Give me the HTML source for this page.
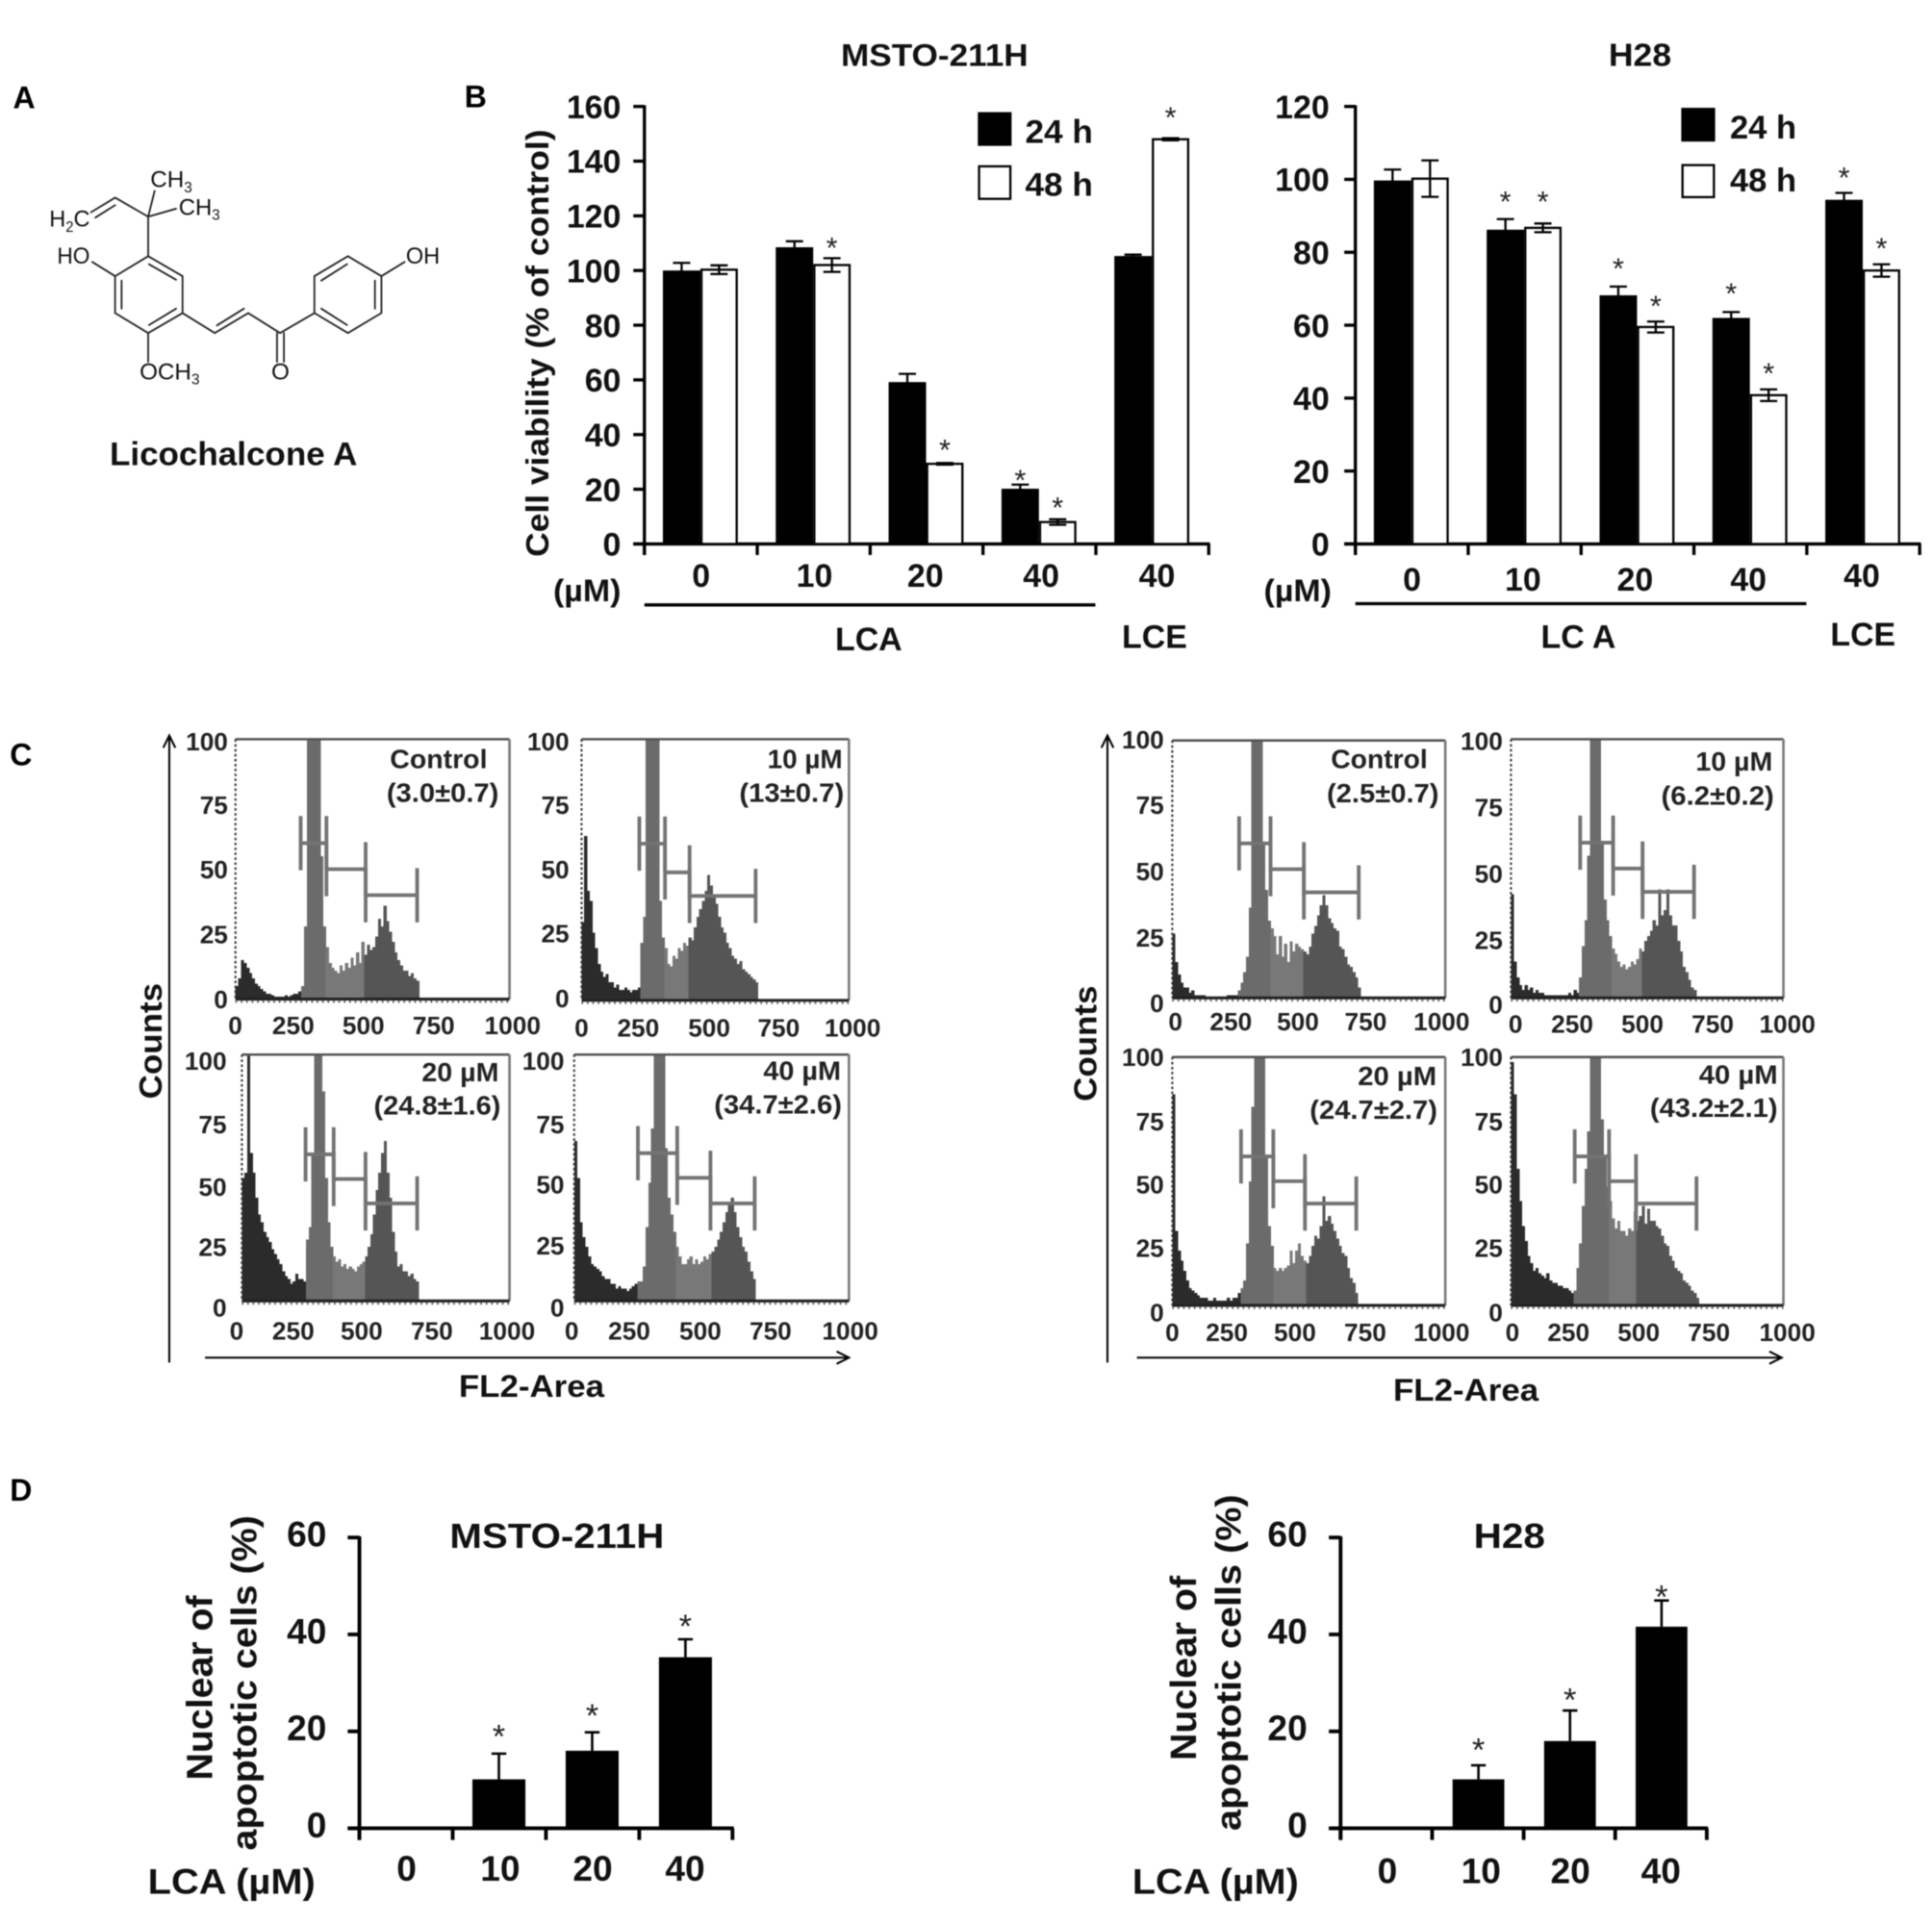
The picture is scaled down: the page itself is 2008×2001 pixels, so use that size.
<!DOCTYPE html>
<html lang="en">
<head>
<meta charset="utf-8">
<title>Licochalcone A figure</title>
<style>
html,body{margin:0;padding:0;background:#fff}
svg{display:block;font-family:"Liberation Sans",Arial,sans-serif;filter:blur(.4px)}
.b{font-weight:700}
.m{text-anchor:middle}
.chem{font-size:19px;fill:#111}
.bond{stroke:#222;stroke-width:4;fill:none;stroke-linecap:round}
</style>
</head>
<body>
<svg id="fig" xmlns="http://www.w3.org/2000/svg" width="2008" height="2001" viewBox="0 0 1568 1562.5">
<rect width="1568" height="1562.5" fill="#fff"/>

<!-- Panel letters -->
<text class="b" x="10.5" y="88" font-size="25">A</text>
<text class="b" x="377" y="87" font-size="25">B</text>
<text class="b" x="8" y="621" font-size="25">C</text>
<text class="b" x="8" y="1218" font-size="25">D</text>

<!-- Structure -->
<g>
<g transform="scale(.3486,.3604)" class="bond">
<polygon points="345,577 425,622 425,705 345,750 268,705 268,622"/>
<path d="M347,595L410,630M410,695L347,732M283,632V695"/>
<path d="M345,577V488M345,488L268,445L212,478M268,462L222,490M345,488L360,430M345,488L410,470"/>
<path d="M268,622L215,590M345,750V815"/>
<path d="M425,705L500,750L578,705L652,750M505,733L568,695M645,750V815M661,750V815M652,750L732,705"/>
<polygon points="732,705 732,622 810,577 888,622 888,705 810,750"/>
<path d="M748,632L808,595M873,632V695M748,695L808,732M888,622L942,590"/>
</g>
<text class="chem" x="40" y="184" textLength="33" lengthAdjust="spacingAndGlyphs">H<tspan font-size="12" dy="4">2</tspan><tspan dy="-4">C</tspan></text>
<text class="chem" x="122" y="152" textLength="34" lengthAdjust="spacingAndGlyphs">CH<tspan font-size="12" dy="4">3</tspan></text>
<text class="chem" x="145" y="174.5" textLength="33.5" lengthAdjust="spacingAndGlyphs">CH<tspan font-size="12" dy="4">3</tspan></text>
<text class="chem" x="46.4" y="214" textLength="26.6" lengthAdjust="spacingAndGlyphs">HO</text>
<text class="chem" x="329.4" y="214" textLength="27.6" lengthAdjust="spacingAndGlyphs">OH</text>
<text class="chem" x="113.3" y="308" textLength="48.7" lengthAdjust="spacingAndGlyphs">OCH<tspan font-size="12" dy="4">3</tspan></text>
<text class="chem m" x="227.6" y="308">O</text>
</g>
<text class="b" x="89" y="377.5" font-size="27" fill="#111" textLength="201" lengthAdjust="spacingAndGlyphs">Licochalcone A</text>

<!-- Panel B static text -->
<text class="b m" x="758.5" y="53.5" font-size="25" fill="#111" textLength="152" lengthAdjust="spacingAndGlyphs">MSTO-211H</text>
<text class="b m" x="1331" y="53.5" font-size="26" fill="#111" textLength="51" lengthAdjust="spacingAndGlyphs">H28</text>
<text class="b" transform="translate(445,452) rotate(-90)" font-size="26" fill="#111" textLength="347" lengthAdjust="spacingAndGlyphs">Cell viability (% of control)</text>
<text class="b" x="449" y="488" font-size="25" fill="#111" textLength="55" lengthAdjust="spacingAndGlyphs">(µM)</text>
<text class="b" x="1025.7" y="488" font-size="25" fill="#111" textLength="55" lengthAdjust="spacingAndGlyphs">(µM)</text>
<line x1="523" x2="889" y1="491" y2="491" stroke="#000" stroke-width="2.6"/>
<line x1="1100" x2="1466" y1="490" y2="490" stroke="#000" stroke-width="2.6"/>
<text class="b m" x="705" y="528" font-size="26.5" fill="#111">LCA</text>
<text class="b m" x="937" y="526" font-size="26.5" fill="#111">LCE</text>
<text class="b m" x="1281" y="526" font-size="26.5" fill="#111">LC A</text>
<text class="b m" x="1512" y="524" font-size="26.5" fill="#111">LCE</text>

<!-- Legends -->
<g>
<rect x="793.6" y="91" width="27.4" height="27.4" fill="#000"/>
<rect x="794.6" y="135" width="25.4" height="26.4" fill="#fff" stroke="#000" stroke-width="1.8"/>
<text class="b" x="832" y="116" font-size="26.5" fill="#111" textLength="55" lengthAdjust="spacingAndGlyphs">24 h</text>
<text class="b" x="832" y="159" font-size="26.5" fill="#111" textLength="55" lengthAdjust="spacingAndGlyphs">48 h</text>
</g>
<g>
<rect x="1364.5" y="87.5" width="27.5" height="27.4" fill="#000"/>
<rect x="1365.5" y="134" width="25.5" height="26" fill="#fff" stroke="#000" stroke-width="1.8"/>
<text class="b" x="1404" y="112.5" font-size="26.5" fill="#111" textLength="54" lengthAdjust="spacingAndGlyphs">24 h</text>
<text class="b" x="1404" y="155.5" font-size="26.5" fill="#111" textLength="54" lengthAdjust="spacingAndGlyphs">48 h</text>
</g>

<!-- Panel C static text and arrows -->
<g stroke="#000" stroke-width="1.6" fill="none">
<path d="M137.4,1106V599M132.5,607L137.4,597L142.3,607"/>
<path d="M166.4,1102H687M679,1097L689,1102L679,1107"/>
<path d="M898.8,1106V599M893.9,607L898.8,597L903.7,607"/>
<path d="M922.7,1102H1444M1436,1097L1446,1102L1436,1107"/>
</g>
<text class="b m" x="431.4" y="1134" font-size="25" fill="#111" textLength="118" lengthAdjust="spacingAndGlyphs">FL2-Area</text>
<text class="b m" x="1189.7" y="1137" font-size="25" fill="#111" textLength="118" lengthAdjust="spacingAndGlyphs">FL2-Area</text>
<text class="b" transform="translate(131,892) rotate(-90)" font-size="26" fill="#111" textLength="94" lengthAdjust="spacingAndGlyphs">Counts</text>
<text class="b" transform="translate(890,894) rotate(-90)" font-size="26" fill="#111" textLength="94" lengthAdjust="spacingAndGlyphs">Counts</text>

<g id="flow-layer"></g>

<g class="b m" font-size="22" fill="#222" id="flow-notes">
<text x="356" y="623.5" textLength="79" lengthAdjust="spacingAndGlyphs">Control</text>
<text x="359.3" y="651" textLength="91" lengthAdjust="spacingAndGlyphs">(3.0±0.7)</text>
<text x="653.3" y="623.5" textLength="61" lengthAdjust="spacingAndGlyphs">10 µM</text>
<text x="642.5" y="651" textLength="85" lengthAdjust="spacingAndGlyphs">(13±0.7)</text>
<text x="373.6" y="877.5" textLength="62.5" lengthAdjust="spacingAndGlyphs">20 µM</text>
<text x="354.9" y="904.5" textLength="103" lengthAdjust="spacingAndGlyphs">(24.8±1.6)</text>
<text x="651" y="876.5" textLength="63" lengthAdjust="spacingAndGlyphs">40 µM</text>
<text x="631.4" y="904" textLength="103.6" lengthAdjust="spacingAndGlyphs">(34.7±2.6)</text>
<text x="1119.4" y="623.5" textLength="78.5" lengthAdjust="spacingAndGlyphs">Control</text>
<text x="1122.3" y="651.3" textLength="91" lengthAdjust="spacingAndGlyphs">(2.5±0.7)</text>
<text x="1407.4" y="625.3" textLength="62.5" lengthAdjust="spacingAndGlyphs">10 µM</text>
<text x="1394" y="653" textLength="91.6" lengthAdjust="spacingAndGlyphs">(6.2±0.2)</text>
<text x="1134" y="881" textLength="64" lengthAdjust="spacingAndGlyphs">20 µM</text>
<text x="1114.8" y="908" textLength="103.6" lengthAdjust="spacingAndGlyphs">(24.7±2.7)</text>
<text x="1410.8" y="879.5" textLength="64" lengthAdjust="spacingAndGlyphs">40 µM</text>
<text x="1390.9" y="906.5" textLength="103.6" lengthAdjust="spacingAndGlyphs">(43.2±2.1)</text>
</g>

<!-- Panel D static text -->
<text class="b" x="365" y="1256.5" font-size="28" fill="#111" textLength="174" lengthAdjust="spacingAndGlyphs">MSTO-211H</text>
<text class="b m" x="1225" y="1256.5" font-size="28" fill="#111" textLength="58" lengthAdjust="spacingAndGlyphs">H28</text>
<text class="b" transform="translate(172,1445) rotate(-90)" font-size="30" fill="#111" textLength="150" lengthAdjust="spacingAndGlyphs">Nuclear of</text>
<text class="b" transform="translate(208,1502) rotate(-90)" font-size="29" fill="#111" textLength="272" lengthAdjust="spacingAndGlyphs">apoptotic cells (%)</text>
<text class="b" transform="translate(970.5,1429) rotate(-90)" font-size="30" fill="#111" textLength="150" lengthAdjust="spacingAndGlyphs">Nuclear of</text>
<text class="b" transform="translate(1007,1486) rotate(-90)" font-size="29" fill="#111" textLength="273" lengthAdjust="spacingAndGlyphs">apoptotic cells (%)</text>
<text class="b" x="120" y="1537" font-size="29" fill="#111" textLength="136" lengthAdjust="spacingAndGlyphs">LCA (µM)</text>
<text class="b" x="919" y="1537" font-size="29" fill="#111" textLength="135" lengthAdjust="spacingAndGlyphs">LCA (µM)</text>

<g id="chart-layer"></g>
</svg>

<script>
// ---------- Panel B data ----------
const viabilityCategories = ['0', '10', '20', '40', '40'];
const mstoViabilityTicks = [0, 20, 40, 60, 80, 100, 120, 140, 160];
const h28ViabilityTicks = [0, 20, 40, 60, 80, 100, 120];

const msto24h = [100, 108.5, 59.2, 20.2, 105.3];
const msto24hErr = [2.8, 2.2, 3, 1.5, 0.5];
const msto24hStar = [null, null, null, 26, null];
const msto48h = [100.3, 102, 29.3, 8, 148];
const msto48hErr = [1.6, 2.5, 0.3, 1, 0.4];
const msto48hStar = [null, 111, 37, 16, 158.5];

const h2824h = [99.7, 86.2, 68.2, 62, 94.4];
const h2824hErr = [3, 2.9, 2.4, 1.6, 1.9];
const h2824hStar = [null, 95.9, 77.5, 70.6, 102.4];
const h2848h = [100.2, 86.7, 59.5, 40.8, 75];
const h2848hErr = [5, 1.2, 1.5, 1.6, 1.7];
const h2848hStar = [null, 95.9, 67.2, 48.8, 83];

// ---------- Panel D data ----------
const apoptosisCategories = ['0', '10', '20', '40'];
const apoptosisTicks = [0, 20, 40, 60];
const mstoApoptosis = [0, 10.1, 16, 35.3];
const mstoApoptosisErr = [0, 5.3, 3.8, 3.7];
const mstoApoptosisStar = [null, 20.6, 24.9, 43.4];
const h28Apoptosis = [0, 10.1, 18, 41.6];
const h28ApoptosisErr = [0, 2.9, 6.3, 5.4];
const h28ApoptosisStar = [null, 17.9, 28.2, 49.4];

// ---------- Panel C data (counts per 10-channel bin, channel 0 upward) ----------
const flowXTickLabels = ['0', '250', '500', '750', '1000'];
const flowYTickLabels = ['100', '75', '50', '25', '0'];
const histMstoControl = [5,8,15,14,12,10,8,6,5,4,3,2,2,1.5,1,1,1,1,1.5,1,1.5,2,2,3,5,28,100,100,100,100,100,55,28,20,14,12,11,10,13,11,14,12,16,13,18,14,22,17,21,19,20,24,31,28,36,30,26,22,18,15,13,11,11,9,10,8,7];
const histMsto10 = [30,63,42,38,26,20,14,11,9,10,7,7,5,6,4,4,5,4,3,4,4,5,22,32,100,100,100,100,100,38,24,20,14,13,17,16,20,19,22,21,24,23,28,32,35,38,42,48,44,40,37,32,28,26,22,20,17,16,14,15,12,11,10,9,8,7];
const histMsto20 = [50,52,100,60,52,42,35,32,28,26,24,21,19,17,15,12,10,9,7,8,11,9,9,8,25,30,60,100,100,100,85,50,32,22,18,16,17,14,15,13,14,13,12,14,15,16,18,22,27,35,45,52,60,65,52,42,28,20,14,15,12,12,10,11,9,8];
const histMsto40 = [65,50,32,26,22,18,15,14,13,12,10,9,9,7,7,5,6,5,5,4,5,6,7,8,8,14,30,48,70,100,100,100,100,62,42,35,28,22,18,15,15,17,18,15,17,15,16,18,17,19,20,22,25,28,32,36,40,42,36,30,26,22,20,16,12,9];
const histH28Control = [25,14,9,6,4,4,2,3,1,1,1,1,0.5,0.5,0.5,0.5,0.5,0.5,0.5,0.5,1,1,1,1,3,6,10,16,35,100,100,100,100,60,42,30,27,24,17,24,16,21,14,22,18,21,20,19,18,17,20,25,28,32,36,40,36,31,29,27,26,20,19,16,13,12,10,8,4];
const histH2810 = [40,14,8,5,3,5,3,4,2,3,2,2,1,1,1,1,1,1,1,1,1,2,1,3,2,8,20,30,55,100,100,100,100,60,38,30,24,19,17,14,12,13,11,12,14,13,15,19,18,22,24,26,30,28,42,32,34,42,32,28,28,22,18,12,10,7,4,3];
const histH2820 = [85,30,22,18,14,10,7,6,5,4,3,3,3,2,2,3,2,2,2,2,3,2,3,3,5,7,10,25,50,80,100,100,100,100,60,32,24,15,14,15,14,15,16,22,17,22,25,20,18,17,20,24,28,27,32,44,34,36,33,30,27,24,21,20,15,11,9,5];
const histH2840 = [98,85,55,42,32,26,20,17,14,15,13,12,11,13,10,9,9,8,8,7,7,6,5,6,15,25,40,55,70,100,100,100,100,75,60,48,42,35,31,34,30,30,28,31,30,38,34,36,40,33,39,34,34,32,31,28,25,24,20,18,15,14,13,10,9,8,6,5,3];

const gatesMstoControl = [238, 332, 475, 663];
const gatesMsto10 = [216, 312, 404, 651];
const gatesMsto20 = [238, 343, 462, 655];
const gatesMsto40 = [232, 375, 496, 657];
const gatesH28Control = [245, 360, 482, 683];
const gatesH2810 = [254, 375, 483, 672];
const gatesH2820 = [252, 370, 486, 674];
const gatesH2840 = [234, 360, 459, 681];
const gateLevelsMstoControl = [60, 50, 40];
const gateLevelsMsto10 = [60, 49, 40];
const gateLevelsMsto20 = [59.5, 49.5, 39.6];
const gateLevelsMsto40 = [60, 50, 39.6];
const gateLevelsH28 = [60, 50, 41];

const NS = 'http://www.w3.org/2000/svg';
function make(tag, attrs, parent, text) {
  const el = document.createElementNS(NS, tag);
  for (const k in attrs) el.setAttribute(k, attrs[k]);
  if (text !== undefined) el.textContent = text;
  parent.appendChild(el);
  return el;
}

function drawAxisFrame(g, c, ticks, cats) {
  const y = v => c.yZero - v / c.yMax * (c.yZero - c.yTop);
  const xEnd = c.x0 + cats.length * c.step;
  const yAxis = make('line', {x1: c.x0, x2: c.x0, y1: c.yTop - 1, y2: c.yZero + c.tick, stroke: '#000', 'stroke-width': c.axisW}, g);
  
  
  const xAxis = make('line', {x1: c.x0 - c.tick, x2: xEnd + 1, y1: c.yZero, y2: c.yZero, stroke: '#000', 'stroke-width': c.axisW}, g);
  
  
  ticks.forEach(t => {
    const mark = make('line', {x1: c.x0 - c.tick, x2: c.x0, y1: y(t), y2: y(t), stroke: '#000', 'stroke-width': c.axisW}, g);
    
    
    const label = make('text', {x: c.labelRight, y: y(t) + c.fs * 0.36 + c.labelDy, 'text-anchor': 'end', 'font-size': c.fs, 'font-weight': 700, fill: '#111'}, g, String(t));
    
    
  });
  for (let i = 0; i <= cats.length; i++) {
    const xt = c.x0 + i * c.step;
    const mark = make('line', {x1: xt, x2: xt, y1: c.yZero, y2: c.yZero + c.tick, stroke: '#000', 'stroke-width': c.axisW}, g);
    
    
  }
  cats.forEach((cat, i) => {
    const label = make('text', {x: c.catX[i], y: c.catY[i], 'text-anchor': 'middle', 'font-size': c.fs, 'font-weight': 700, fill: '#111'}, g, cat);
    
    
  });
  return y;
}

function drawSeries(g, c, y, values, errs, stars, barX, filled) {
  values.forEach((v, i) => {
    const bx = barX(i);
    if (v > 0) {
      const bar = make('rect', {
        x: filled ? bx : bx + 0.9, y: y(v), width: filled ? c.barW : c.barW - 1.8, height: c.yZero - y(v),
        fill: filled ? '#000' : '#fff', stroke: filled ? 'none' : '#000', 'stroke-width': filled ? 0 : 1.8
      }, g);
      
      
    }
    const cx = bx + c.barW / 2;
    if (errs[i] > 0) {
      const lower = c.upperOnly ? v : v - errs[i];
      const err = make('path', {
        d: 'M' + cx + ',' + y(lower) + 'V' + y(v + errs[i]) + 'M' + (cx - c.cap) + ',' + y(v + errs[i]) + 'H' + (cx + c.cap) +
           (c.upperOnly ? '' : 'M' + (cx - c.cap) + ',' + y(lower) + 'H' + (cx + c.cap)),
        stroke: '#000', 'stroke-width': c.errW, fill: 'none'
      }, g);
      
      
    }
    if (stars[i] !== null) {
      const star = make('text', {x: cx, y: y(stars[i]) + c.starFs * 0.58, 'text-anchor': 'middle', 'font-size': c.starFs, fill: '#222'}, g, '*');
      
      
    }
  });
}

const chartLayer = document.getElementById('chart-layer');

function drawViability(c, ticks, s24, e24, st24, s48, e48, st48) {
  const g = make('g', {}, chartLayer);
  
  
  const y = drawAxisFrame(g, c, ticks, viabilityCategories);
  drawSeries(g, c, y, s24, e24, st24, i => c.x0 + i * c.step + c.offset, true);
  drawSeries(g, c, y, s48, e48, st48, i => c.x0 + i * c.step + c.offset + c.barW, false);
}

const viabilityStyle = {step: 91.6, offset: 15, barW: 30.4, tick: 9, axisW: 2.6, fs: 26.5, cap: 7, errW: 1.8, starFs: 24, upperOnly: false, yZero: 441.5, yTop: 86.4, labelDy: 0};
drawViability(Object.assign({}, viabilityStyle, {x0: 523, yMax: 160, labelRight: 504, catX: [569, 661, 751, 845, 939], catY: [476.5, 476.5, 476.5, 476.5, 476.5]}),
  mstoViabilityTicks, msto24h, msto24hErr, msto24hStar, msto48h, msto48hErr, msto48hStar);
drawViability(Object.assign({}, viabilityStyle, {x0: 1100, yMax: 120, labelRight: 1079, catX: [1146, 1236, 1327, 1419, 1511], catY: [479.5, 479.5, 479.5, 479.5, 476.5]}),
  h28ViabilityTicks, h2824h, h2824hErr, h2824hStar, h2848h, h2848hErr, h2848hStar);

function drawApoptosis(c, values, errs, stars) {
  const g = make('g', {}, chartLayer);
  
  
  const y = drawAxisFrame(g, c, apoptosisTicks, apoptosisCategories);
  drawSeries(g, c, y, values, errs, stars, i => c.x0 + i * c.step + c.offset, true);
}
const apoptosisStyle = {tick: 9.5, axisW: 3, fs: 29, cap: 6, errW: 2, starFs: 27, upperOnly: true, yZero: 1484, yTop: 1248, yMax: 60, labelDy: -3};
drawApoptosis(Object.assign({}, apoptosisStyle, {x0: 291.7, step: 75.7, offset: 16, barW: 43, labelRight: 265, catX: [330, 406, 481, 556], catY: [1526.5, 1526.5, 1526.5, 1526.5]}),
  mstoApoptosis, mstoApoptosisErr, mstoApoptosisStar);
drawApoptosis(Object.assign({}, apoptosisStyle, {x0: 1088, step: 74.3, offset: 16.6, barW: 42, labelRight: 1061, catX: [1126, 1202, 1274.5, 1348], catY: [1528.5, 1528.5, 1528.5, 1528.5]}),
  h28Apoptosis, h28ApoptosisErr, h28ApoptosisStar);

// ---------- Flow histograms ----------
const flowLayer = document.getElementById('flow-layer');
const gateColors = ['#2b2b2b', '#6b6b6b', '#787878', '#555555', '#555555'];
const flowBinWidth = 10;

function drawFlow(p, counts, gates, levels) {
  const g = make('g', {}, flowLayer);
  
  
  const w = p.x1 - p.x0;
  const xs = ch => p.x0 + ch / 1000 * w;
  const ys = n => p.y0 - n / 100 * (p.y0 - p.yTop);
  counts.forEach((n, i) => {
    const ch = i * flowBinWidth;
    let zone = 0;
    while (zone < 3 && ch + flowBinWidth / 2 >= gates[zone]) zone++;
    const bin = make('rect', {x: xs(ch), y: ys(n), width: xs(flowBinWidth) - xs(0) + 0.3, height: p.y0 - ys(n), fill: gateColors[zone], 'shape-rendering': 'crispEdges'}, g);
    
    
  });
  const top = make('line', {x1: p.x0, x2: p.x1, y1: p.yTop, y2: p.yTop, stroke: '#555', 'stroke-width': 2}, g);
  
  
  const right = make('line', {x1: p.x1, x2: p.x1, y1: p.yTop, y2: p.y0, stroke: '#777', 'stroke-width': 2}, g);
  
  
  const left = make('line', {x1: p.x0, x2: p.x0, y1: p.yTop, y2: p.y0, stroke: '#333', 'stroke-width': 1.6, 'stroke-dasharray': '2 2'}, g);
  
  
  const bottom = make('line', {x1: p.x0, x2: p.x1, y1: p.y0, y2: p.y0, stroke: '#222', 'stroke-width': 2.4}, g);
  
  
  const minor = make('line', {x1: p.x0, x2: p.x1, y1: p.y0 + 2, y2: p.y0 + 2, stroke: '#555', 'stroke-width': 2, 'stroke-dasharray': '1.2 3.2'}, g);
  
  
  levels.forEach((lvl, i) => {
    const a = xs(gates[i]), b = xs(gates[i + 1]), m = ys(lvl);
    const gate = make('path', {d: 'M' + a + ',' + (m - 22) + 'V' + (m + 22) + 'M' + a + ',' + m + 'H' + b + 'M' + b + ',' + (m - 22) + 'V' + (m + 22), stroke: '#737373', 'stroke-width': 3, fill: 'none'}, g);
    
    
  });
  flowXTickLabels.forEach((t, i) => {
    const label = make('text', {x: p.lx[i], y: p.lxY + 5.5, 'text-anchor': 'middle', 'font-size': 20.5, 'font-weight': 700, fill: '#222'}, g, t);
    
    
  });
  flowYTickLabels.forEach((t, i) => {
    const label = make('text', {x: p.lyRight, y: p.ly[i] + 5.5, 'text-anchor': 'end', 'font-size': 20.5, 'font-weight': 700, fill: '#222'}, g, t);
    
    
  });
}

drawFlow({x0: 191.1, x1: 413.5, yTop: 600, y0: 811, lx: [191, 238, 295, 352, 416], lxY: 834, ly: [603.7, 655, 707.5, 760, 812.7], lyRight: 185}, histMstoControl, gatesMstoControl, gateLevelsMstoControl);
drawFlow({x0: 472, x1: 689, yTop: 600, y0: 812, lx: [472, 518, 575.6, 632, 692], lxY: 836, ly: [603.7, 655, 707.5, 759.5, 812], lyRight: 462}, histMsto10, gatesMsto10, gateLevelsMsto10);
drawFlow({x0: 196.3, x1: 413.5, yTop: 856, y0: 1056, lx: [192, 238, 293.5, 350.5, 411.5], lxY: 1082, ly: [863, 914.4, 965, 1014, 1063], lyRight: 184}, histMsto20, gatesMsto20, gateLevelsMsto20);
drawFlow({x0: 466, x1: 689, yTop: 856, y0: 1056, lx: [464, 510.7, 568.4, 625.4, 690], lxY: 1082, ly: [863, 914.4, 963, 1012.8, 1063], lyRight: 458}, histMsto40, gatesMsto40, gateLevelsMsto40);
drawFlow({x0: 951.4, x1: 1173, yTop: 601, y0: 810, lx: [954, 999, 1053.4, 1108.4, 1170], lxY: 830.8, ly: [602, 655, 709, 763, 816], lyRight: 944.7}, histH28Control, gatesH28Control, gateLevelsH28);
drawFlow({x0: 1226.3, x1: 1447.4, yTop: 600, y0: 810, lx: [1230, 1276, 1333, 1390, 1450.6], lxY: 832.6, ly: [603, 657, 710.8, 764.8, 817], lyRight: 1219.6}, histH2810, gatesH2810, gateLevelsH28);
drawFlow({x0: 951.4, x1: 1173, yTop: 858, y0: 1059.6, lx: [951.4, 995.7, 1051, 1108, 1170], lxY: 1083, ly: [859.6, 912, 963, 1014.6, 1067], lyRight: 944.7}, histH2820, gatesH2820, gateLevelsH28);
drawFlow({x0: 1226.3, x1: 1447.4, yTop: 858, y0: 1059.6, lx: [1227.5, 1273, 1330, 1387, 1450.6], lxY: 1083, ly: [859.6, 912, 963, 1014.6, 1067], lyRight: 1219.6}, histH2840, gatesH2840, gateLevelsH28);
</script>
</body>
</html>
